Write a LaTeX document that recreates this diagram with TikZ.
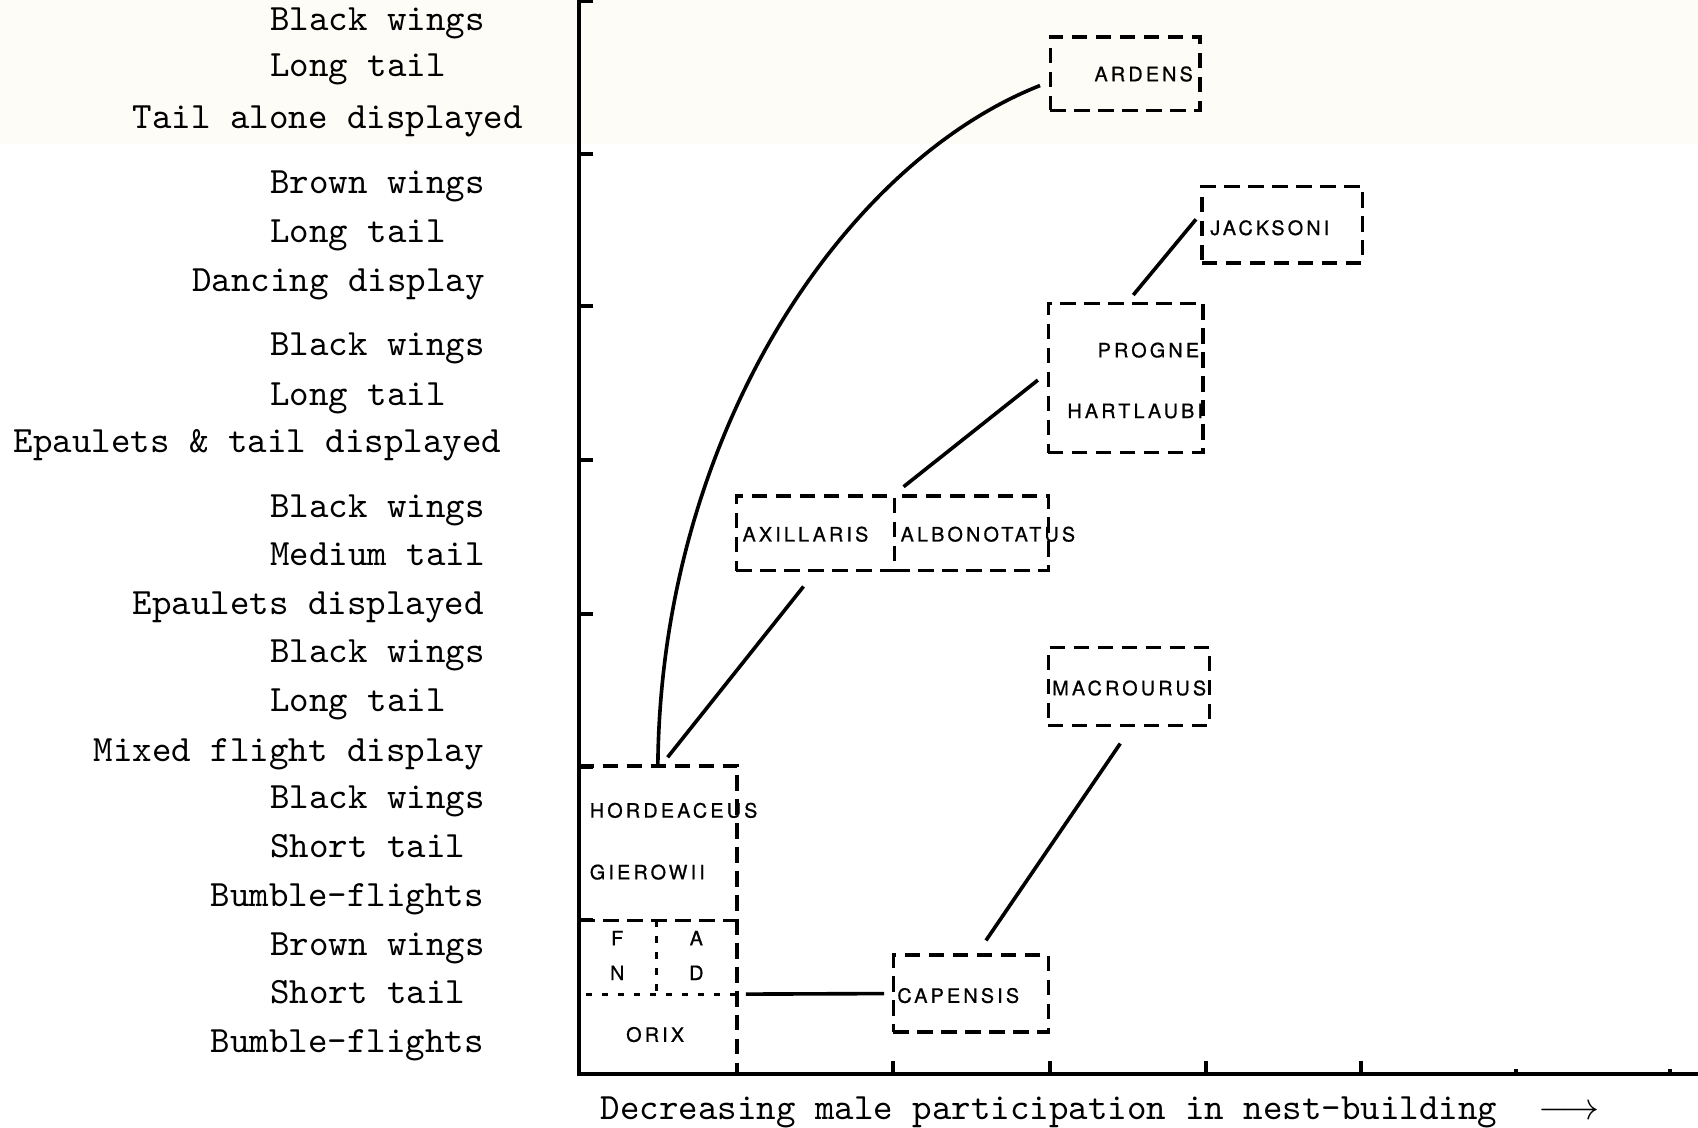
\documentclass[tikz,border=0pt]{standalone}
\usepackage{fontspec}
\usetikzlibrary{fit}
\newfontfamily\boxfont[LetterSpace=16,FakeBold=0.8]{TeX Gyre Heros}
\definecolor{paper}{RGB}{253,252,246}
\begin{document}
\begin{tikzpicture}[x=0.01cm,y=-0.01cm,
  lab/.style={anchor=base west, inner sep=0pt, font=\ttfamily\fontsize{9.75}{11}\selectfont},
  sp/.style={anchor=base west, inner sep=0pt, font=\boxfont\fontsize{5.2}{6}\selectfont},
  spc/.style={sp, anchor=base},
  dashline/.style={line width=0.9pt, dash pattern=on 4pt off 2.3pt},
  dotline/.style={line width=0.85pt, dash pattern=on 1.6pt off 2.6pt},
  box/.style={draw, dashline, inner sep=0pt},
  area/.style={inner sep=0pt},
  link/.style={line width=0.95pt},
  axis/.style={line width=1.05pt},
]
\useasboundingbox (0,0) rectangle (1568,1041);
% faint tint along the top of the sheet
\fill[paper] (0,0) rectangle (1568,133);

% axes and tick marks
\draw[axis] (535,0) -- (535,992) -- (1568,992);
\foreach \t in {1,142,283,425,567,708,850}
  \draw[axis] (535,\t) -- (548,\t);
\foreach \t in {825,970,1114,1257}
  \draw[axis] (\t,992) -- (\t,980);
\foreach \t in {1400,1542}
  \draw[axis] (\t,992) -- (\t,987);

% plumage / display descriptions
\node[lab] (a1) at (249,28) {Black wings};
\node[lab] (a2) at (249,71) {Long tail};
\node[lab] (a3) at (122,119) {Tail alone displayed};
\node[lab] (b1) at (249,179) {Brown wings};
\node[lab] (b2) at (249,224) {Long tail};
\node[lab] (b3) at (177,269) {Dancing display};
\node[lab] (c1) at (249,328) {Black wings};
\node[lab] (c2) at (249,374) {Long tail};
\node[lab] (c3) at (12,418) {Epaulets \& tail displayed};
\node[lab] (d1) at (249,478) {Black wings};
\node[lab] (d2) at (249,522) {Medium tail};
\node[lab] (d3) at (122,567) {Epaulets displayed};
\node[lab] (e1) at (249,612) {Black wings};
\node[lab] (e2) at (249,657) {Long tail};
\node[lab] (e3) at (86,703) {Mixed flight display};
\node[lab] (f1) at (249,747) {Black wings};
\node[lab] (f2) at (249,792) {Short tail};
\node[lab] (f3) at (194,837) {Bumble-flights};
\node[lab] (g1) at (249,882) {Brown wings};
\node[lab] (g2) at (249,927) {Short tail};
\node[lab] (g3) at (194,972) {Bumble-flights};

\node[lab] (xlab) at (554,1034) {Decreasing male participation in nest-building\hspace{1.1em}$\longrightarrow$};

% species boxes
\node[box, fit={(970,34) (1108,102)}] (ardens) {};
\node[box, fit={(1110,172) (1258,243)}] (jack) {};
\node[box, fit={(968,280) (1111,418)}] (prog) {};
\node[box, fit={(680,458) (826,527)}] (axil) {};
\node[box, fit={(826,458) (968,527)}] (albo) {};
\node[box, fit={(968,598) (1117,670)}] (macr) {};
\node[box, fit={(825,882) (968,953)}] (cap) {};

% bottom-left block sitting on the axes
\node[area, fit={(535,708) (680,992)}] (hord) {};
\draw[dashline] (hord.north west) -- (hord.north east) -- (hord.south east);
\draw[dashline] (535,850) -- (680,850);
\draw[dotline] (606,850) -- (606,918);
\draw[dotline] (541,918) -- (680,918);

% species names
\node[sp] (tardens) at (1010,75) {ARDENS};
\node[sp] (tjack) at (1117,217) {JACKSONI};
\node[sp] (tprog) at (1013,330) {PROGNE};
\node[sp] (thart) at (985,386) {HARTLAUBI};
\node[sp] (taxil) at (685,500) {AXILLARIS};
\node[sp] (talbo) at (831,500) {ALBONOTATUS};
\node[sp] (tmacr) at (971,642) {MACROURUS};
\node[sp] (thord) at (544,755) {HORDEACEUS};
\node[sp] (tgier) at (544,812) {GIEROWII};
\node[spc] (tf) at (570,873) {F};
\node[spc] (tn) at (570,905) {N};
\node[spc] (ta) at (643,873) {A};
\node[spc] (td) at (643,905) {D};
\node[spc] (torix) at (605,962) {ORIX};
\node[sp] (tcap) at (828,926) {CAPENSIS};

% connectors between the groups
\draw[link] (hord.north) .. controls (610,400) and (780,150) .. ([shift={(-8,11)}]ardens.west);
\draw[link] ([shift={(9,-8)}]hord.north) -- ([shift={(-11,13)}]axil.south);
\draw[link] ([shift={(10,-7)}]albo.north west) -- ([shift={(-8,2)}]prog.west);
\draw[link] ([shift={(7,-6)}]prog.north) -- ([shift={(-4,-5)}]jack.west);
\draw[link] ([shift={(14,-12)}]cap.north) -- ([shift={(-8,15)}]macr.south);
\draw[link] ([shift={(8,68)}]hord.east) -- ([shift={(-7,0)}]cap.west);
\end{tikzpicture}
\end{document}
